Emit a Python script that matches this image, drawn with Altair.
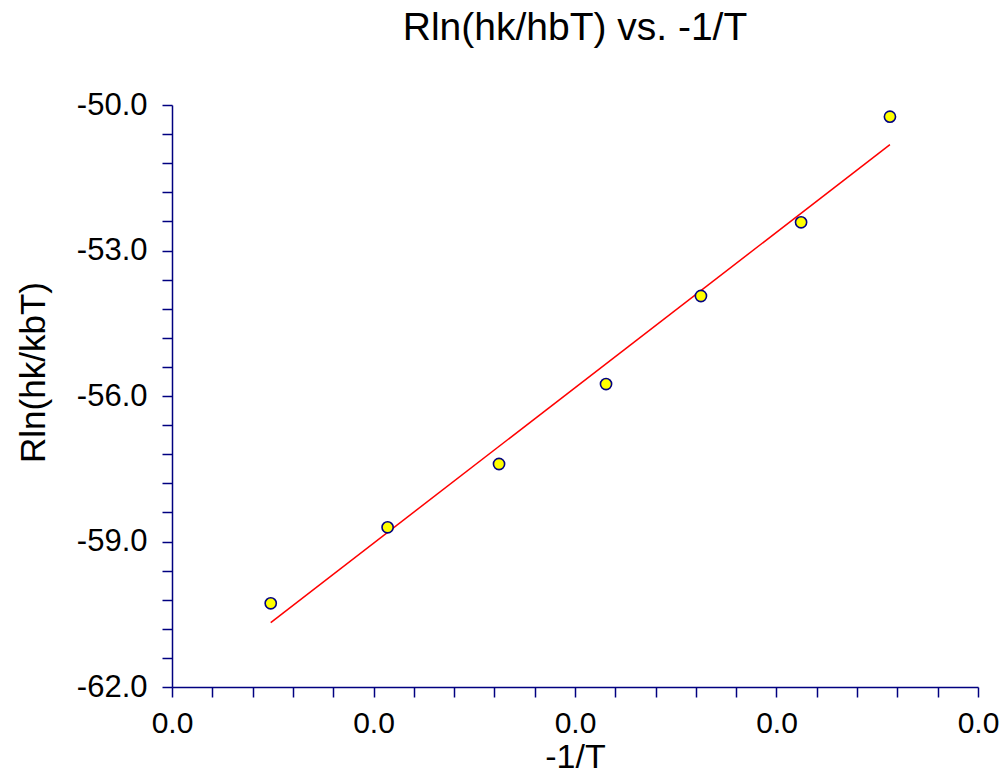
import altair as alt
import pandas as pd

# data
x_vals = [-0.0034510, -0.0033930, -0.0033377, -0.0032846, -0.0032375, -0.0031878, -0.0031437]
y_vals = [-60.274, -58.707, -57.402, -55.753, -53.938, -52.419, -50.241]

x_domain = [-0.0035, -0.0031]
y_domain = [-62.0, -50.0]
x_tick_values = [round(-0.0035 + i * 0.00002, 8) for i in range(21)]
y_tick_values = [round(-62.0 + i * 0.6, 4) for i in range(21)]

df = pd.DataFrame({"x": x_vals, "y": y_vals})

navy = "#000080"
font = "Liberation Sans"

x_label_expr = ("abs((datum.value + 0.0035) / 0.0001 - round((datum.value + 0.0035) / 0.0001)) < 0.01"
                " ? replace(format(datum.value, '.1f'), '\u2212', '-') : ''")
y_label_expr = ("abs((datum.value + 62) / 3 - round((datum.value + 62) / 3)) < 0.01"
                " ? replace(format(datum.value, '.1f'), '\u2212', '-') : ''")

x_enc = alt.X(
    "x:Q",
    scale=alt.Scale(domain=x_domain, nice=False, zero=False),
    axis=alt.Axis(
        title="-1/T",
        values=x_tick_values,
        labelExpr=x_label_expr,
        labelPadding=11,
        labelFontSize=30,
        titleY=80,
        titleBaseline="alphabetic",
        labelFlush=False,
    ),
)
y_enc = alt.Y(
    "y:Q",
    scale=alt.Scale(domain=y_domain, nice=False, zero=False),
    axis=alt.Axis(
        title="Rln(hk/kbT)",
        values=y_tick_values,
        labelExpr=y_label_expr,
        labelPadding=15,
        titleX=-128,
        titleY=267,
        titleAngle=270,
        titleAlign="center",
        titleBaseline="alphabetic",
        titleFontSize=35,
    ),
)

base = alt.Chart(df)
line = base.transform_regression("x", "y").mark_line(color="#ff0000", strokeWidth=1.5).encode(x=x_enc, y=y_enc)
points = base.mark_circle(
    fill="#ffff00", stroke=navy, strokeWidth=1.6, size=125, opacity=1, fillOpacity=1
).encode(x=x_enc, y=y_enc)

chart = (
    alt.layer(line, points)
    .properties(
        width=806,
        height=582,
        title=alt.Title(
            "Rln(hk/hbT) vs. -1/T",
            font=font,
            fontSize=39,
            fontWeight="normal",
            color="black",
            anchor="middle",
            frame="group",
            offset=41,
        ),
        autosize=alt.AutoSizeParams(type="none"),
        padding={"left": 172, "top": 105, "right": 25, "bottom": 87},
    )
    .configure_view(stroke=None)
    .configure_axis(
        grid=False,
        domainColor=navy,
        tickColor=navy,
        domainWidth=1.5,
        tickWidth=1.5,
        tickSize=10,
        labelFont=font,
        labelFontSize=31,
        labelColor="black",
        titleFont=font,
        titleFontSize=34,
        titleFontWeight="normal",
        titleColor="black",
        labelOverlap=False,
        labelBound=False,
    )
)

chart.save("out.html", embed_options={"renderer": "svg", "actions": False})
